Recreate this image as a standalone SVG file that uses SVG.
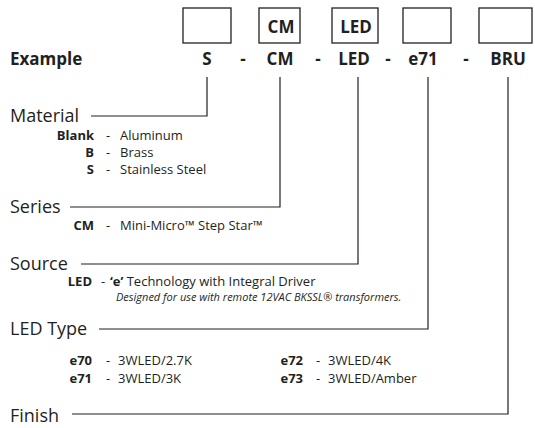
<svg xmlns="http://www.w3.org/2000/svg" width="535" height="428" viewBox="0 0 535 428">
<style>
text{font-family:"Open Sans","Noto Sans","Liberation Sans",sans-serif;fill:#231f20}
.b{font-weight:bold}
.code{font-weight:bold;font-size:17px;text-anchor:middle}
.head{font-size:18px}
.item{font-size:13px}
.ib{font-size:13px;font-weight:bold;text-anchor:end}
.it{font-size:11px;font-style:italic}
.box{fill:#fff;stroke:#231f20;stroke-width:1.3}
.ln{fill:none;stroke:#231f20;stroke-width:1.2}
</style>
<rect width="535" height="428" fill="#fff"/>
<g id="example">
<text x="10" y="65" class="b" font-size="17">Example</text>
<rect class="box" x="183" y="8" width="48" height="35"/>
<rect class="box" x="259" y="8" width="41" height="35"/>
<rect class="box" x="332" y="8" width="46" height="35"/>
<rect class="box" x="403" y="8" width="48" height="35"/>
<rect class="box" x="479" y="8" width="53" height="35"/>
<text x="281" y="33" class="code" font-size="16">CM</text>
<text x="356" y="33" class="code" font-size="16">LED</text>
<text x="207" y="65" class="code">S</text>
<text x="243" y="65" class="code">-</text>
<text x="280" y="65" class="code">CM</text>
<text x="318" y="65" class="code">-</text>
<text x="354" y="65" class="code">LED</text>
<text x="388" y="65" class="code">-</text>
<text x="423" y="65" class="code">e71</text>
<text x="466" y="65" class="code">-</text>
<text x="508" y="65" class="code">BRU</text>
</g>
<g id="connectors">
<polyline class="ln" points="207,77 207,116 91,116"/>
<polyline class="ln" points="280,77 280,207 70,207"/>
<polyline class="ln" points="358,77 358,264 81,264"/>
<polyline class="ln" points="428,77 428,329 99,329"/>
<polyline class="ln" points="508,77 508,414 72,414"/>
</g>
<g id="material">
<text x="10" y="122" class="head">Material</text>
<text x="94" y="140" class="ib">Blank</text><text x="106" y="140" class="item">-</text><text x="120" y="140" class="item">Aluminum</text>
<text x="94" y="157" class="ib">B</text><text x="106" y="157" class="item">-</text><text x="120" y="157" class="item">Brass</text>
<text x="94" y="174" class="ib">S</text><text x="106" y="174" class="item">-</text><text x="120" y="174" class="item">Stainless Steel</text>
</g>
<g id="series">
<text x="10" y="213" class="head">Series</text>
<text x="94" y="230" class="ib">CM</text><text x="106" y="230" class="item">-</text><text x="120" y="230" class="item">Mini-Micro™ Step Star™</text>
</g>
<g id="source">
<text x="10" y="270" class="head">Source</text>
<text x="92" y="286" class="ib">LED</text><text x="101" y="286" class="item">-</text><text x="110" y="286" class="item" font-size="12.5"><tspan font-weight="bold">‘e’</tspan> Technology with Integral Driver</text>
<text x="116" y="301" class="it">Designed for use with remote 12VAC BKSSL® transformers.</text>
</g>
<g id="ledtype">
<text x="10" y="335" class="head">LED Type</text>
<text x="92" y="365" class="ib">e70</text><text x="106" y="365" class="item">-</text><text x="118" y="365" class="item">3WLED/2.7K</text>
<text x="92" y="383" class="ib">e71</text><text x="106" y="383" class="item">-</text><text x="118" y="383" class="item">3WLED/3K</text>
<text x="303" y="365" class="ib">e72</text><text x="316" y="365" class="item">-</text><text x="328" y="365" class="item">3WLED/4K</text>
<text x="303" y="383" class="ib">e73</text><text x="316" y="383" class="item">-</text><text x="328" y="383" class="item">3WLED/Amber</text>
</g>
<g id="finish">
<text x="10" y="422" class="head">Finish</text>
</g>
</svg>
